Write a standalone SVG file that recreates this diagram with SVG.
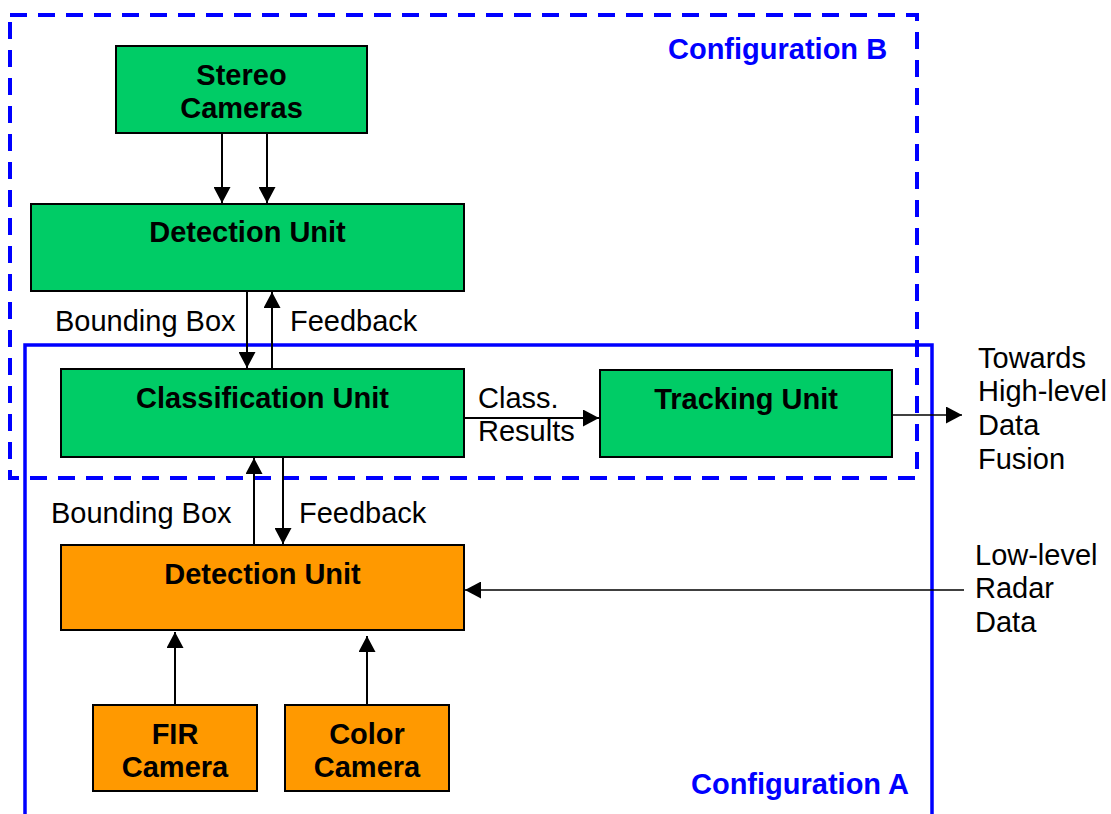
<svg xmlns="http://www.w3.org/2000/svg" width="1111" height="814" viewBox="0 0 1111 814">
<defs>
<marker id="ah" markerUnits="userSpaceOnUse" markerWidth="17" markerHeight="17" viewBox="0 0 17 17" refX="16" refY="8.5" orient="auto">
<path d="M0,0 L16,8.5 L0,17 Z" fill="#000"/>
</marker>
</defs>
<style>
.g{fill:#00CC66;stroke:#000;stroke-width:2}
.o{fill:#FF9900;stroke:#000;stroke-width:2}
.t{font-family:"Liberation Sans",Arial,sans-serif;font-size:29px;font-weight:bold;fill:#000;text-anchor:middle}
.l{font-family:"Liberation Sans",Arial,sans-serif;font-size:29px;fill:#000}
.c{font-family:"Liberation Sans",Arial,sans-serif;font-size:29px;font-weight:bold;fill:#0000FF}
.a{stroke:#000;stroke-width:2;fill:none;marker-end:url(#ah)}
.a2{stroke:#000;stroke-width:1.5;fill:none;marker-end:url(#ah)}
</style>
<rect width="1111" height="814" fill="#fff"/>
<g id="configA">
<rect x="25" y="345" width="907" height="500" fill="none" stroke="#0000FF" stroke-width="3.5"/>
<text class="c" x="691" y="794">Configuration A</text>
</g>
<g id="configB">
<rect x="10" y="15" width="907" height="463" fill="none" stroke="#0000FF" stroke-width="4" stroke-dasharray="17,11"/>
<text class="c" x="668" y="59">Configuration B</text>
</g>
<g id="stereo">
<rect class="g" x="116" y="46" width="251" height="87"/>
<text class="t" x="241.5" y="85">Stereo</text>
<text class="t" x="241.5" y="118">Cameras</text>
</g>
<g id="detB">
<rect class="g" x="31" y="204" width="433" height="87"/>
<text class="t" x="247.5" y="242">Detection Unit</text>
</g>
<g id="classif">
<rect class="g" x="61" y="369" width="403" height="88"/>
<text class="t" x="262.5" y="408">Classification Unit</text>
</g>
<g id="tracking">
<rect class="g" x="600" y="370" width="292" height="87"/>
<text class="t" x="746" y="409">Tracking Unit</text>
</g>
<g id="detA">
<rect class="o" x="61" y="545" width="403" height="85"/>
<text class="t" x="262.5" y="584">Detection Unit</text>
</g>
<g id="fir">
<rect class="o" x="93" y="705" width="164" height="86"/>
<text class="t" x="175" y="744">FIR</text>
<text class="t" x="175" y="777">Camera</text>
</g>
<g id="color">
<rect class="o" x="285" y="705" width="164" height="86"/>
<text class="t" x="367" y="744">Color</text>
<text class="t" x="367" y="777">Camera</text>
</g>
<g id="connectors">
<line class="a" x1="222" y1="133" x2="222" y2="203"/>
<line class="a" x1="267" y1="133" x2="267" y2="203"/>
<line class="a" x1="247" y1="291" x2="247" y2="368"/>
<line class="a" x1="272" y1="369" x2="272" y2="292"/>
<line class="a" x1="254" y1="545" x2="254" y2="458"/>
<line class="a" x1="283" y1="457" x2="283" y2="544"/>
<line class="a" x1="175" y1="705" x2="175" y2="632"/>
<line class="a" x1="367" y1="705" x2="367" y2="636"/>
<line class="a" x1="464" y1="418" x2="599" y2="418"/>
<line class="a2" x1="892" y1="415" x2="962" y2="415"/>
<line class="a2" x1="964" y1="590" x2="465" y2="590"/>
</g>
<g id="labels">
<text class="l" x="55" y="331">Bounding Box</text>
<text class="l" x="290" y="331">Feedback</text>
<text class="l" x="51" y="523">Bounding Box</text>
<text class="l" x="299" y="523">Feedback</text>
<text class="l" x="478" y="408">Class.</text>
<text class="l" x="478" y="441">Results</text>
<text class="l" x="978" y="368">Towards</text>
<text class="l" x="978" y="401">High-level</text>
<text class="l" x="978" y="435">Data</text>
<text class="l" x="978" y="469">Fusion</text>
<text class="l" x="975" y="565">Low-level</text>
<text class="l" x="975" y="598">Radar</text>
<text class="l" x="975" y="632">Data</text>
</g>
</svg>
